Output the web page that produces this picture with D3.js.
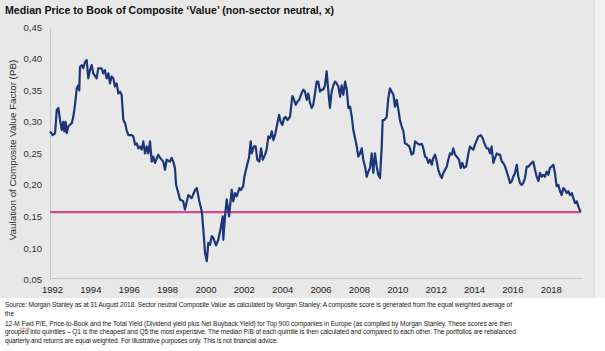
<!DOCTYPE html>
<html>
<head>
<meta charset="utf-8">
<script src="https://cdn.jsdelivr.net/npm/d3@7"></script>
<style>
  body { margin: 0; background: #fff; }
  svg { display: block; font-family: "Liberation Sans", Arial, sans-serif; }
</style>
</head>
<body>
<div id="chart"></div>
<script>
// Chart data (decimal year, P/B)
const years = [
  1991.90,1992.04,1992.16,1992.25,1992.33,1992.42,1992.51,1992.59,1992.64,1992.71,1992.77,1992.85,
  1993.03,1993.11,1993.20,1993.29,1993.37,1993.42,1993.46,1993.55,1993.63,1993.72,1993.81,1993.89,1993.98,
  1994.07,1994.15,1994.33,1994.41,1994.59,1994.67,1994.76,1994.85,1994.94,
  1995.02,1995.11,1995.20,1995.28,1995.37,1995.46,1995.55,1995.63,1995.72,1995.81,1995.89,1995.98,
  1996.16,1996.24,1996.33,1996.42,1996.50,1996.59,1996.68,1996.76,1996.85,1996.94,
  1997.02,1997.11,1997.20,1997.28,1997.37,1997.54,1997.63,1997.80,1997.89,1997.98,
  1998.15,1998.24,1998.32,1998.41,1998.47,1998.59,1998.67,1998.84,1998.93,
  1999.11,1999.28,1999.46,1999.55,1999.68,1999.81,1999.89,1999.98,
  2000.07,2000.15,2000.24,2000.33,2000.41,2000.55,2000.67,2000.80,2000.90,2000.93,
  2001.02,2001.11,2001.23,2001.37,2001.45,2001.54,2001.63,2001.77,2001.85,2001.97,
  2002.03,2002.15,2002.27,2002.36,2002.41,2002.53,2002.62,2002.70,2002.81,2002.90,2002.99,
  2003.11,2003.19,2003.28,2003.37,2003.46,2003.54,2003.63,2003.72,2003.84,2003.92,
  2004.01,2004.10,2004.18,2004.27,2004.41,2004.53,2004.62,2004.71,2004.79,2004.89,2004.98,
  2005.10,2005.19,2005.28,2005.36,2005.45,2005.54,2005.62,2005.71,2005.80,2005.88,2005.97,
  2006.06,2006.15,2006.23,2006.32,2006.41,2006.49,2006.58,2006.67,2006.76,2006.84,2006.93,
  2007.02,2007.10,2007.19,2007.28,2007.37,2007.45,2007.54,2007.63,2007.71,2007.89,2007.97,
  2008.06,2008.15,2008.23,2008.32,2008.41,2008.49,2008.58,2008.67,2008.75,2008.84,2008.93,
  2009.01,2009.10,2009.19,2009.24,2009.33,2009.45,2009.53,2009.62,2009.71,2009.80,2009.88,2009.97,
  2010.06,2010.14,2010.23,2010.32,2010.40,2010.52,2010.63,2010.75,2010.84,2010.93,
  2011.05,2011.15,2011.28,2011.36,2011.45,2011.54,2011.62,2011.71,2011.80,2011.88,2011.97,
  2012.06,2012.14,2012.23,2012.32,2012.40,2012.58,2012.66,2012.75,2012.84,2012.92,
  2013.01,2013.10,2013.22,2013.31,2013.39,2013.48,2013.59,2013.71,2013.79,2013.88,2013.97,
  2014.05,2014.23,2014.35,2014.46,2014.54,2014.66,2014.75,2014.84,2014.92,
  2015.01,2015.10,2015.19,2015.27,2015.36,2015.45,2015.53,2015.62,2015.71,2015.79,2015.88,2015.97,
  2016.05,2016.14,2016.23,2016.31,2016.40,2016.49,2016.57,2016.66,2016.75,2016.83,2016.92,
  2017.01,2017.09,2017.18,2017.27,2017.36,2017.44,2017.53,2017.62,2017.70,2017.79,2017.88,2017.96,
  2018.05,2018.14,2018.22,2018.31,2018.40,2018.49,2018.57,2018.66,2018.75,2018.83,2018.92,
  2019.01,2019.10,2019.18,2019.27,2019.36,2019.44,2019.56
]
const pbValues = [
  0.285,0.279,0.282,0.319,0.322,0.303,0.287,0.300,0.285,0.300,0.282,0.293,
  0.298,0.308,0.327,0.353,0.358,0.350,0.387,0.390,0.385,0.395,0.398,0.369,0.382,
  0.390,0.377,0.369,0.385,0.385,0.377,0.382,0.369,0.377,
  0.361,0.372,0.369,0.356,0.361,0.345,0.348,0.343,0.303,0.298,0.287,0.279,
  0.279,0.277,0.264,0.266,0.258,0.261,0.256,0.269,0.250,0.261,
  0.250,0.269,0.237,0.245,0.235,0.248,0.243,0.237,0.224,0.240,
  0.237,0.243,0.237,0.227,0.200,0.187,0.177,0.174,0.161,
  0.184,0.179,0.192,0.195,0.174,0.158,0.129,0.092,
  0.079,0.108,0.105,0.119,0.116,0.104,0.113,0.132,0.150,0.113,
  0.150,0.177,0.150,0.192,0.174,0.187,0.182,0.195,0.192,0.198,
  0.213,0.229,0.243,0.269,0.250,0.261,0.261,0.240,0.237,0.258,0.240,
  0.248,0.256,0.277,0.274,0.285,0.271,0.279,0.293,0.311,0.300,
  0.295,0.306,0.308,0.303,0.308,0.341,0.335,0.327,0.332,0.335,0.343,
  0.351,0.348,0.335,0.345,0.330,0.322,0.327,0.345,0.364,0.364,0.348,
  0.351,0.351,0.358,0.380,0.348,0.322,0.348,0.358,0.364,0.361,0.356,
  0.340,0.358,0.343,0.364,0.351,0.322,0.324,0.308,0.287,0.261,0.245,
  0.250,0.258,0.240,0.229,0.213,0.221,0.227,0.250,0.219,0.250,0.229,
  0.216,0.211,0.261,0.303,0.303,0.308,0.337,0.353,0.348,0.343,0.324,0.335,
  0.319,0.303,0.293,0.285,0.266,0.264,0.261,0.248,0.250,0.269,
  0.266,0.264,0.265,0.258,0.245,0.243,0.235,0.240,0.232,0.243,0.248,
  0.237,0.224,0.216,0.211,0.219,0.229,0.240,0.250,0.248,0.258,
  0.248,0.245,0.240,0.227,0.235,0.227,0.229,0.250,0.261,0.258,0.256,
  0.264,0.277,0.279,0.274,0.266,0.258,0.258,0.250,0.261,
  0.235,0.243,0.250,0.248,0.248,0.237,0.235,0.229,0.221,0.213,0.203,0.206,
  0.213,0.219,0.232,0.213,0.203,0.200,0.203,0.211,0.229,0.229,0.232,
  0.235,0.237,0.224,0.213,0.206,0.219,0.213,0.216,0.213,0.221,0.216,0.227,
  0.229,0.232,0.219,0.198,0.200,0.190,0.184,0.195,0.192,0.187,0.190,
  0.184,0.187,0.179,0.171,0.174,0.166,0.157
]
const currentLevel = 0.157
const xTicks = [1992,1994,1996,1998,2000,2002,2004,2006,2008,2010,2012,2014,2016,2018]
const yTicks = [0.05,0.10,0.15,0.20,0.25,0.30,0.35,0.40,0.45]

const title = "Median Price to Book of Composite \u2018Value\u2019 (non-sector neutral, x)"
const yLabel = "Vaulation of Composite Value Factor (PB)"
const footnote = [
  "Source: Morgan Stanley as at 31 August 2018. Sector neutral Composite Value as calculated by Morgan Stanley: A composite score is generated from the equal weighted average of",
  "the",
  "12-M Fwd P/E, Price-to-Book and the Total Yield (Dividend yield plus Net Buyback Yield) for Top 900 companies in Europe (as compiled by Morgan Stanley. These scores are then",
  "grouped into quintiles \u2013 Q1 is the cheapest and Q5 the most expensive. The median P/B of each quintile is then calculated and compared to each other. The portfolios are rebalanced",
  "quarterly and returns are equal weighted. For illustrative purposes only. This is not financial advice."
]

// Layout
const WIDTH = 605
const HEIGHT = 351
const PANEL = {RIGHT:594, BOTTOM:298}

const svg = d3.select("#chart").append("svg")
    .attr("width", WIDTH)
    .attr("height", HEIGHT)

// grey panel behind title and plot
svg.append("rect")
    .attr("width", PANEL.RIGHT).attr("height", PANEL.BOTTOM)
    .attr("fill", "#e8e8e8")
svg.append("rect")
    .attr("x", PANEL.RIGHT).attr("width", WIDTH - PANEL.RIGHT).attr("height", PANEL.BOTTOM)
    .attr("fill", "#f1f1f1")
svg.append("line")
    .attr("x1", PANEL.RIGHT).attr("x2", PANEL.RIGHT).attr("y1", 0).attr("y2", PANEL.BOTTOM)
    .attr("stroke", "#dadada")

// Scales
const x = d3.scaleLinear().domain([1992, 2018]).range([52, 550.7])
const y = d3.scaleLinear().domain([0.05, 0.45]).range([279.5, 27.3])

// Title
svg.append("text")
    .attr("x", 5).attr("y", 14)
    .attr("font-size", 10.6).attr("font-weight", "bold").attr("fill", "#111")
    .text(title)

// Y axis
const yAxis = svg.append("g")
    .attr("transform", "translate(50,0)")
    .call(d3.axisLeft(y).tickValues(yTicks).tickSize(0).tickPadding(8)
        .tickFormat(d => d3.format(".2f")(d).replace(".", ",")))
yAxis.select(".domain").attr("stroke", "#cacaca").attr("stroke-width", 1.2)
yAxis.selectAll("text").attr("font-size", 9.5).attr("fill", "#333")
    .attr("font-family", "Liberation Sans, Arial, sans-serif")

// X axis
const xAxis = svg.append("g")
    .attr("transform", `translate(0,${y(0.05)})`)
    .call(d3.axisBottom(x).tickValues(xTicks).tickSize(0).tickPadding(7).tickFormat(d3.format("d")))
xAxis.select(".domain").remove()
xAxis.selectAll("text").attr("font-size", 9.5).attr("fill", "#222")
    .attr("font-family", "Liberation Sans, Arial, sans-serif")
svg.append("line")
    .attr("x1", 50).attr("x2", x(years[years.length-1]) + 2)
    .attr("y1", y(0.05) - 1).attr("y2", y(0.05) - 1)
    .attr("stroke", "#cacaca").attr("stroke-width", 1.2)

// Y label
svg.append("text")
    .attr("transform", "translate(16,150) rotate(-90)")
    .attr("text-anchor", "middle")
    .attr("font-size", 9.8).attr("fill", "#333")
    .text(yLabel)

// Current level line
svg.append("line")
    .attr("x1", x(years[0])).attr("x2", x(years[years.length-1]))
    .attr("y1", y(currentLevel)).attr("y2", y(currentLevel))
    .attr("stroke", "#cf4a9c").attr("stroke-width", 2.2)

// P/B series
const data = years.map((yr, i) => ({year: yr, value: pbValues[i]}))
const line = d3.line().x(d => x(d.year)).y(d => y(d.value))
svg.append("path")
    .datum(data)
    .attr("d", line)
    .attr("fill", "none")
    .attr("stroke", "#1c3779")
    .attr("stroke-width", 2.2)
    .attr("stroke-linejoin", "round")

// Footnote
const footY = [307, 315.5, 325.5, 334, 343]
const footLen = [507, null, 507, 511, 273]
svg.append("g").selectAll("text")
    .data(footnote)
    .enter().append("text")
    .attr("x", 5)
    .attr("y", (d, i) => footY[i])
    .attr("font-size", 6.6).attr("fill", "#222")
    .attr("textLength", (d, i) => footLen[i])
    .attr("lengthAdjust", "spacing")
    .text(d => d)

// spell-check squiggle under "Fwd"
const squig = d3.range(0, 6).map(i => [20 + i * 2, 328 + (i % 2) * 1.2])
svg.append("path")
    .attr("d", d3.line()(squig))
    .attr("fill", "none").attr("stroke", "#e03030").attr("stroke-width", 0.6)
</script>
</body>
</html>
